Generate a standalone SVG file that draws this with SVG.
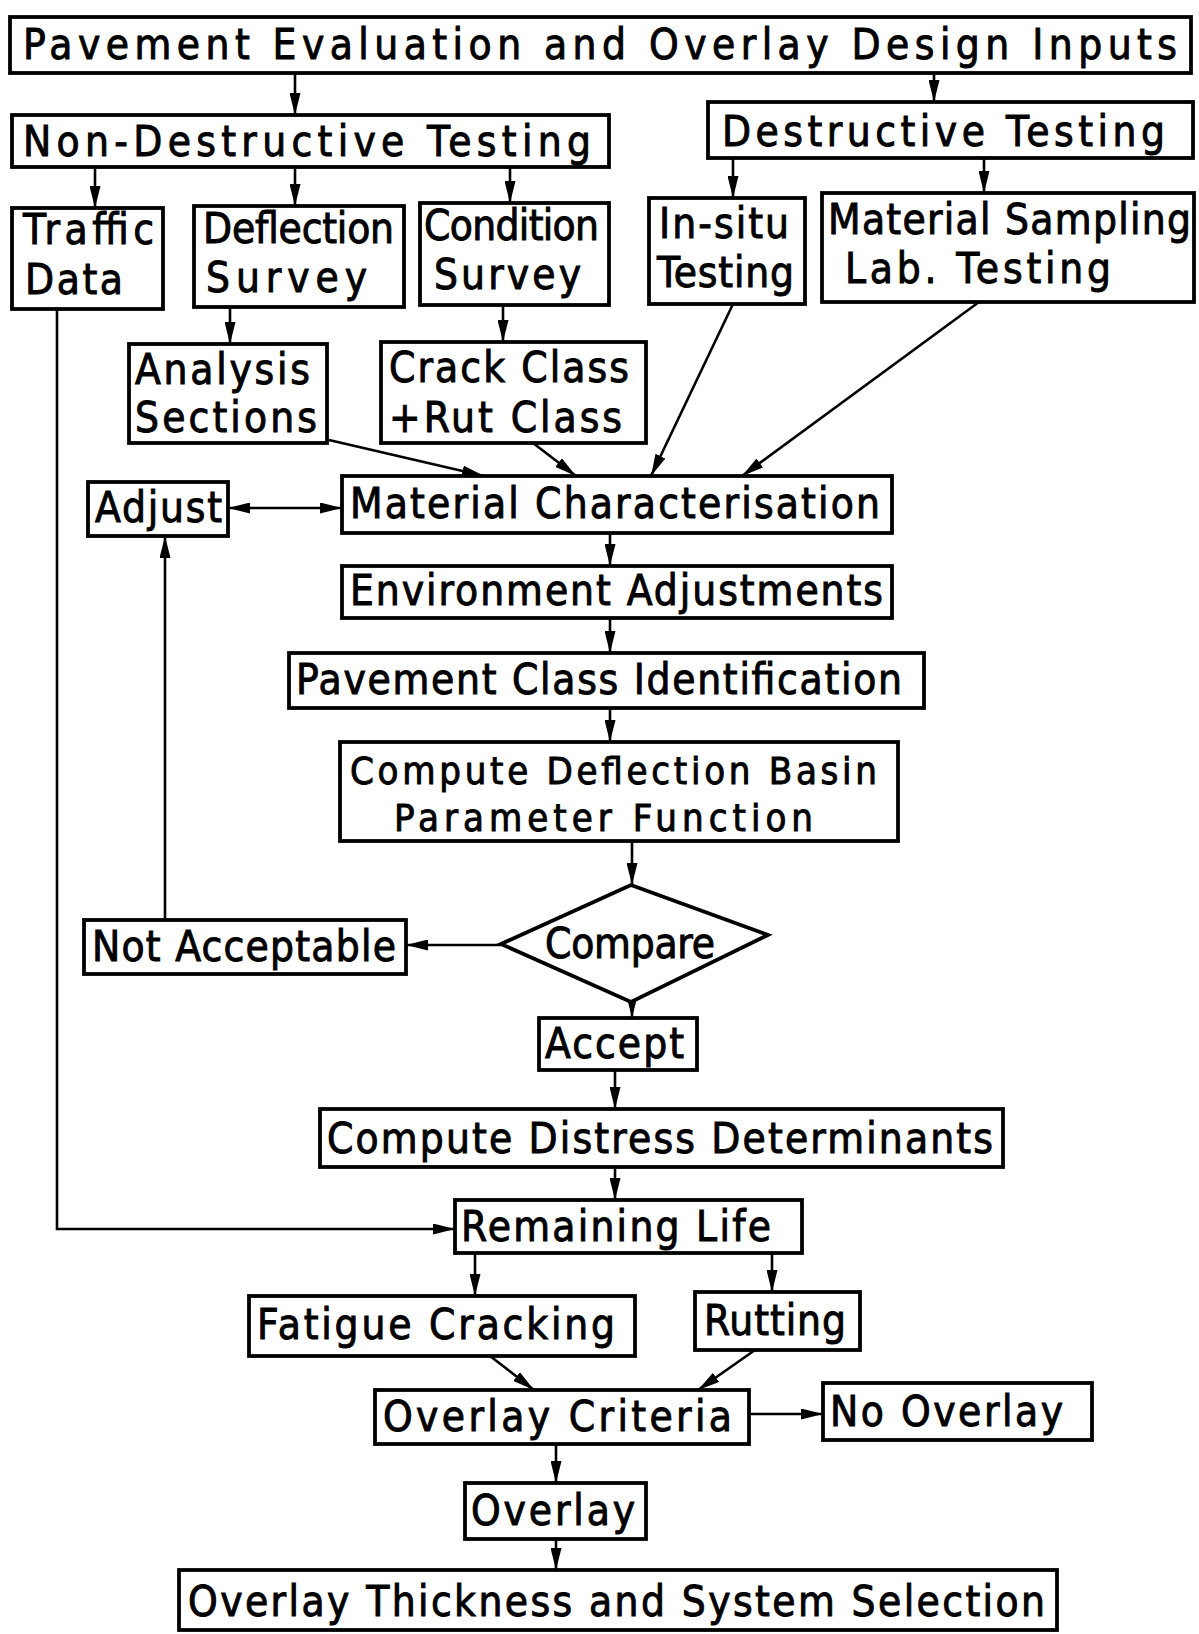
<svg xmlns="http://www.w3.org/2000/svg" width="1199" height="1634" viewBox="0 0 1199 1634">
<style>
.box{fill:#fff;stroke:#000;stroke-width:3.8}
.t{font-family:"DejaVu Sans Condensed","DejaVu Sans","Liberation Sans",sans-serif;font-stretch:condensed;font-size:42px;fill:#000;stroke:#000;stroke-width:0.9}
.s{font-size:38px}
.c{stroke:#000;stroke-width:2.6;fill:none;marker-end:url(#ah)}
</style>
<defs>
<marker id="ah" markerUnits="userSpaceOnUse" markerWidth="22" markerHeight="11" refX="22" refY="5.5" orient="auto-start-reverse">
<path d="M0,0 L22,5.5 L0,11 z" fill="#000"/>
</marker>
</defs>
<rect width="1199" height="1634" fill="#fff"/>

<g id="connectors">
<line class="c" x1="295" y1="74" x2="295" y2="115"/>
<line class="c" x1="934" y1="72" x2="934" y2="102"/>
<line class="c" x1="95" y1="167" x2="95" y2="208"/>
<line class="c" x1="295" y1="167" x2="295" y2="206"/>
<line class="c" x1="510" y1="167" x2="510" y2="203"/>
<line class="c" x1="733" y1="158" x2="733" y2="198"/>
<line class="c" x1="984" y1="158" x2="984" y2="193"/>
<line class="c" x1="230" y1="307" x2="230" y2="344"/>
<line class="c" x1="503" y1="305" x2="503" y2="342"/>
<line class="c" x1="329" y1="440" x2="484" y2="476"/>
<line class="c" x1="533" y1="443" x2="576" y2="476"/>
<line class="c" x1="733" y1="304" x2="651" y2="476"/>
<line class="c" x1="979" y1="302" x2="742" y2="476"/>
<line class="c" x1="228" y1="508" x2="342" y2="508" style="marker-start:url(#ah)"/>
<line class="c" x1="610" y1="533" x2="610" y2="566"/>
<line class="c" x1="610" y1="618" x2="610" y2="653"/>
<line class="c" x1="610" y1="708" x2="610" y2="742"/>
<line class="c" x1="632" y1="841" x2="632" y2="885"/>
<line class="c" x1="501" y1="945" x2="406" y2="945"/>
<line class="c" x1="165" y1="920" x2="165" y2="536"/>
<line class="c" x1="632" y1="1002" x2="632" y2="1018"/>
<line class="c" x1="615" y1="1070" x2="615" y2="1109"/>
<line class="c" x1="615" y1="1167" x2="615" y2="1200"/>
<polyline class="c" points="57,309 57,1229 455,1229"/>
<line class="c" x1="475" y1="1253" x2="475" y2="1296"/>
<line class="c" x1="772" y1="1253" x2="772" y2="1292"/>
<line class="c" x1="490" y1="1356" x2="534" y2="1390"/>
<line class="c" x1="755" y1="1350" x2="698" y2="1390"/>
<line class="c" x1="749" y1="1414" x2="823" y2="1414"/>
<line class="c" x1="556" y1="1444" x2="556" y2="1483"/>
<line class="c" x1="556" y1="1539" x2="556" y2="1570"/>
</g>

<g id="n-top"><rect class="box" x="10" y="17" width="1181" height="56"/>
<text class="t" x="23" y="59" textLength="1154">Pavement Evaluation and Overlay Design Inputs</text></g>

<g id="n-ndt"><rect class="box" x="12" y="115" width="597" height="52"/>
<text class="t" x="23" y="156" textLength="568">Non-Destructive Testing</text></g>

<g id="n-dt"><rect class="box" x="708" y="102" width="485" height="56"/>
<text class="t" x="722" y="146" textLength="443">Destructive Testing</text></g>

<g id="n-traffic"><rect class="box" x="12" y="208" width="151" height="101"/>
<text class="t" x="23" y="244" textLength="131">Traffic</text>
<text class="t" x="25" y="294" textLength="98">Data</text></g>

<g id="n-deflection"><rect class="box" x="194" y="206" width="210" height="101"/>
<text class="t" x="203" y="243" textLength="191">Deflection</text>
<text class="t" x="206" y="292" textLength="161">Survey</text></g>

<g id="n-condition"><rect class="box" x="420" y="203" width="189" height="102"/>
<text class="t" x="424" y="240" textLength="175">Condition</text>
<text class="t" x="434" y="289" textLength="147">Survey</text></g>

<g id="n-insitu"><rect class="box" x="649" y="198" width="156" height="106"/>
<text class="t" x="659" y="238" textLength="130">In-situ</text>
<text class="t" x="657" y="287" textLength="137">Testing</text></g>

<g id="n-material"><rect class="box" x="822" y="193" width="372" height="109"/>
<text class="t" x="828" y="234" textLength="363">Material Sampling</text>
<text class="t" x="845" y="283" textLength="266">Lab. Testing</text></g>

<g id="n-analysis"><rect class="box" x="129" y="344" width="198" height="99"/>
<text class="t" x="135" y="384" textLength="175">Analysis</text>
<text class="t" x="135" y="432" textLength="182">Sections</text></g>

<g id="n-crack"><rect class="box" x="381" y="342" width="265" height="101"/>
<text class="t" x="389" y="382" textLength="240">Crack Class</text>
<text class="t" x="389" y="432" textLength="233">+Rut  Class</text></g>

<g id="n-matchar"><rect class="box" x="342" y="476" width="550" height="57"/>
<text class="t" x="350" y="518" textLength="530">Material Characterisation</text></g>

<g id="n-adjust"><rect class="box" x="88" y="482" width="140" height="54"/>
<text class="t" x="95" y="522" textLength="127">Adjust</text></g>

<g id="n-env"><rect class="box" x="342" y="566" width="550" height="52"/>
<text class="t" x="350" y="605" textLength="533">Environment Adjustments</text></g>

<g id="n-pavclass"><rect class="box" x="289" y="653" width="635" height="55"/>
<text class="t" x="296" y="694" textLength="606">Pavement Class Identification</text></g>

<g id="n-basin"><rect class="box" x="340" y="742" width="558" height="99"/>
<text class="t s" x="350" y="784" textLength="527">Compute Deflection Basin</text>
<text class="t s" x="394" y="831" textLength="419">Parameter Function</text></g>

<g id="n-compare"><polygon class="box" points="501,944 631,885 768,935 631,1002"/>
<text class="t" x="545" y="958" textLength="170">Compare</text></g>

<g id="n-notacc"><rect class="box" x="84" y="920" width="322" height="54"/>
<text class="t" x="92" y="961" textLength="304">Not Acceptable</text></g>

<g id="n-accept"><rect class="box" x="539" y="1018" width="158" height="52"/>
<text class="t" x="545" y="1058" textLength="139">Accept</text></g>

<g id="n-distress"><rect class="box" x="320" y="1109" width="683" height="58"/>
<text class="t" x="327" y="1153" textLength="666">Compute Distress Determinants</text></g>

<g id="n-remlife"><rect class="box" x="455" y="1200" width="347" height="53"/>
<text class="t" x="461" y="1241" textLength="310">Remaining Life</text></g>

<g id="n-fatigue"><rect class="box" x="249" y="1296" width="386" height="60"/>
<text class="t" x="257" y="1339" textLength="358">Fatigue Cracking</text></g>

<g id="n-rutting"><rect class="box" x="695" y="1292" width="165" height="58"/>
<text class="t" x="704" y="1335" textLength="142">Rutting</text></g>

<g id="n-ovcrit"><rect class="box" x="375" y="1390" width="374" height="54"/>
<text class="t" x="383" y="1431" textLength="349">Overlay Criteria</text></g>

<g id="n-nooverlay"><rect class="box" x="823" y="1383" width="269" height="57"/>
<text class="t" x="830" y="1426" textLength="233">No Overlay</text></g>

<g id="n-overlay"><rect class="box" x="465" y="1483" width="181" height="56"/>
<text class="t" x="471" y="1525" textLength="164">Overlay</text></g>

<g id="n-thickness"><rect class="box" x="179" y="1570" width="878" height="60"/>
<text class="t" x="188" y="1616" textLength="857">Overlay Thickness and System Selection</text></g>
</svg>
